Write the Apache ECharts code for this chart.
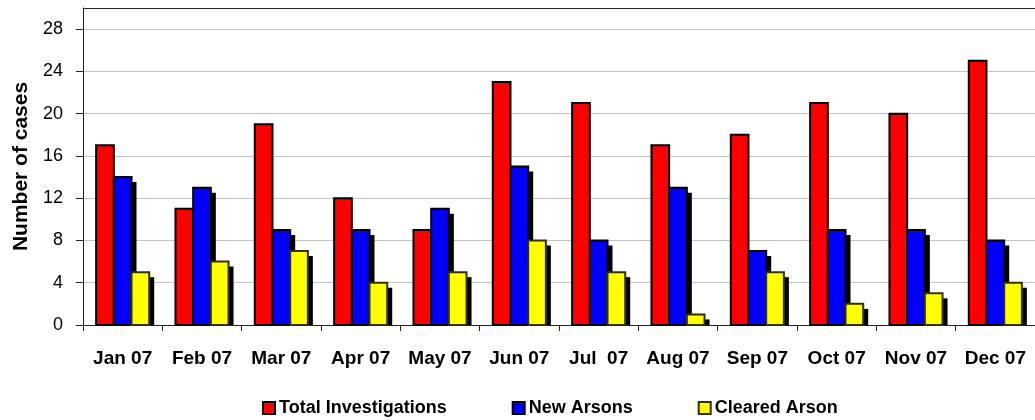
<!DOCTYPE html>
<html>
<head>
<meta charset="utf-8">
<script src="https://cdn.jsdelivr.net/npm/echarts@6/dist/echarts.min.js"></script>
<style>
html, body { margin: 0; padding: 0; background: #fff; }
#chart { width: 1035px; height: 420px; }
</style>
</head>
<body>
<div id="chart"></div>
<script>
const months = ['Jan 07', 'Feb 07', 'Mar 07', 'Apr 07', 'May 07', 'Jun 07', 'Jul  07', 'Aug 07', 'Sep 07', 'Oct 07', 'Nov 07', 'Dec 07'];
const totalInvestigations = [17, 11, 19, 12, 9, 23, 21, 17, 18, 21, 20, 25];
const newArsons = [14, 13, 9, 9, 11, 15, 8, 13, 7, 9, 9, 8];
const clearedArson = [5, 6, 7, 4, 5, 8, 5, 1, 5, 2, 3, 4];
const yTicks = [0, 4, 8, 12, 16, 20, 24, 28];

let chart = echarts.init(document.getElementById('chart'));

// bars with a hard black drop shadow (only on blue/yellow), drawn as custom
// series so the shadow doesn't also get painted under the border stroke
function barSeries(name, values, slot, color, border, shadow) {
    return {
        name: name,
        type: 'custom',
        itemStyle: { color: color, borderColor: border, borderWidth: 2 },
        encode: { x: 0, y: 1 },
        data: values.map(function (v, i) { return [i, v]; }),
        renderItem: function (params, api) {
            let top = api.coord([api.value(0), api.value(1)]);
            let base = api.coord([api.value(0), 0]);
            let band = api.size([1, 0])[0];
            let w = band * 0.223;
            let x = base[0] - 1.5 * w + slot * w;
            let h = base[1] - top[1];
            let children = [];
            if (shadow) {
                children.push({
                    type: 'rect',
                    shape: { x: x + 5, y: top[1] + 5, width: w, height: Math.max(h - 5, 0) },
                    style: { fill: '#000' }
                });
            }
            children.push({
                type: 'rect',
                shape: { x: x, y: top[1], width: w, height: h },
                style: { fill: color, stroke: border, lineWidth: 2 }
            });
            return { type: 'group', children: children };
        }
    };
}

let option = {
    textStyle: { fontFamily: 'Liberation Sans, Arial, sans-serif' },
    animation: false,
    grid: { left: 83, right: 0, top: 8, bottom: 95 },
    legend: {
        top: 394,
        left: 257,
        itemGap: 65,
        itemWidth: 12,
        itemHeight: 12,
        icon: 'rect',
        textStyle: { fontSize: 18, fontWeight: 'bold', color: '#000', padding: [0, 0, 0, -1] },
        data: [
            { name: 'Total Investigations', itemStyle: { color: '#ff0000', borderColor: '#000', borderWidth: 2 } },
            { name: 'New Arsons', itemStyle: { color: '#0000ff', borderColor: '#000', borderWidth: 2 } },
            { name: 'Cleared Arson', itemStyle: { color: '#ffff00', borderColor: '#333300', borderWidth: 2 } }
        ]
    },
    xAxis: [{
        type: 'category',
        data: months,
        axisLine: { lineStyle: { color: '#222', width: 1 } },
        axisTick: { show: true, interval: 0, length: 6, lineStyle: { color: '#222' } },
        axisLabel: { interval: 0, fontSize: 19, fontWeight: 'bold', color: '#000', margin: 24 }
    }, {
        type: 'category',
        position: 'top',
        data: months,
        axisLine: { lineStyle: { color: '#222', width: 1 } },
        axisTick: { show: false },
        axisLabel: { show: false }
    }],
    yAxis: {
        type: 'value',
        min: 0,
        max: 30,
        interval: 4,
        name: 'Number of cases',
        nameLocation: 'middle',
        nameGap: 51,
        nameTextStyle: { fontSize: 21, fontWeight: 'bold', color: '#000' },
        axisLine: { show: true, lineStyle: { color: '#222' } },
        axisTick: { show: true, length: 7, customValues: yTicks, lineStyle: { color: '#222' } },
        axisLabel: { fontSize: 18, color: '#000', margin: 20, customValues: yTicks },
        splitLine: { lineStyle: { color: '#c4c4c4', width: 1 } }
    },
    series: [
        barSeries('Total Investigations', totalInvestigations, 0, '#ff0000', '#000', false),
        barSeries('New Arsons', newArsons, 1, '#0000ff', '#000', true),
        barSeries('Cleared Arson', clearedArson, 2, '#ffff00', '#333300', true)
    ]
};

chart.setOption(option);
</script>
</body>
</html>
